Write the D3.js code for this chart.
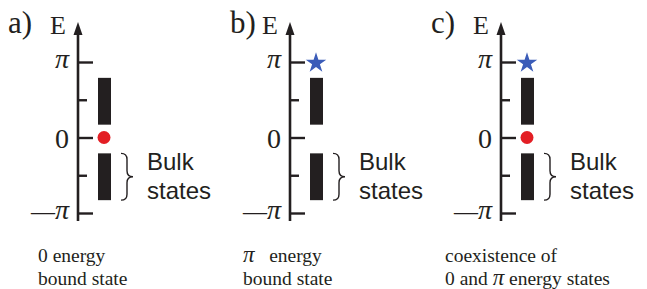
<!DOCTYPE html>
<html>
<head>
<meta charset="utf-8">
<script src="https://cdn.jsdelivr.net/npm/d3@7"></script>
<style>
  body { margin: 0; background: #fff; }
  svg { display: block; }
</style>
</head>
<body>
<script>
// Panels and their content
var panelLabels = ["a)", "b)", "c)"];
var hasZeroState = [true, false, true];
var hasPiState = [false, true, true];
// bulk bands, in units of pi (upper, lower)
var bulkBands = [[0.17, 0.79], [-0.83, -0.21]];
var majorTicks = [Math.PI, 0, -Math.PI];
var majorLabels = [["\u03c0"], ["0"], ["\u2014", "\u03c0"]];
var minorTicks = [Math.PI / 2, -Math.PI / 2];
var captions = [
  [["0 energy"], ["bound state"]],
  [["\u03c0", "   energy"], ["bound state"]],
  [["coexistence of"], ["0 and ", "\u03c0", " energy states"]]
];

var svgWidth = 647;
var svgHeight = 289;
var axisX = [78, 290, 501];
var ink = "#231f20";

var svg = d3.select("body")
  .append("svg")
  .attr("width", svgWidth)
  .attr("height", svgHeight);

var y = d3.scaleLinear()
  .domain([-Math.PI, Math.PI])
  .range([213, 62]);

var serif = "Liberation Serif";
var sans = "Liberation Sans";

panelLabels.forEach(function(lab, i) {
  var g = svg.append("g").attr("transform", `translate(${axisX[i]},0)`);

  // axis line with arrow head
  g.append("line")
    .attr("x1", 0).attr("x2", 0)
    .attr("y1", 221).attr("y2", 32)
    .attr("stroke", ink)
    .attr("stroke-width", 2.6);
  g.append("path")
    .attr("d", "M0,22 L4.5,35 L-4.5,35 Z")
    .attr("fill", ink);

  var major = d3.axisLeft(y)
    .tickValues(majorTicks)
    .tickSize(-15)
    .tickFormat("");
  var mg = g.append("g").call(major);
  mg.select(".domain").remove();
  mg.selectAll(".tick line").attr("stroke", ink).attr("stroke-width", 2.4);
  mg.selectAll(".tick text").remove();

  // tick labels
  majorTicks.forEach(function(v, k) {
    var t = g.append("text")
      .attr("x", -9).attr("y", y(v) + (k === 1 ? 10 : 6))
      .attr("text-anchor", "end")
      .style("font-family", serif)
      .style("font-size", "28px")
      .attr("fill", ink);
    majorLabels[k].forEach(function(part) {
      var s = t.append("tspan").text(part);
      if (part === "\u03c0") s.style("font-style", "italic");
      if (part === "\u2014") s.style("font-size", "24px");
    });
  });

  var minor = d3.axisLeft(y)
    .tickValues(minorTicks)
    .tickSize(-9)
    .tickFormat("");
  var ng = g.append("g").call(minor);
  ng.select(".domain").remove();
  ng.selectAll(".tick line").attr("stroke", ink).attr("stroke-width", 2.4);

  // panel label and E
  g.append("text")
    .attr("x", i === 1 ? -60 : -70).attr("y", 33)
    .style("font-family", serif).style("font-size", "31px")
    .attr("fill", ink)
    .text(lab);
  g.append("text")
    .attr("x", -28).attr("y", 34)
    .style("font-family", serif).style("font-size", "26px")
    .attr("fill", ink)
    .text("E");

  // bulk bands
  g.selectAll("rect.band")
    .data(bulkBands)
    .enter().append("rect")
    .attr("class", "band")
    .attr("x", 20).attr("width", 13)
    .attr("y", d => y(d[1] * Math.PI))
    .attr("height", d => y(d[0] * Math.PI) - y(d[1] * Math.PI))
    .attr("fill", ink);

  // zero energy state
  if (hasZeroState[i]) {
    g.append("circle")
      .attr("cx", 26).attr("cy", y(0))
      .attr("r", 6.5)
      .attr("fill", "#e31e24");
  }
  // pi energy state
  if (hasPiState[i]) {
    g.append("path")
      .attr("d", d3.symbol().type(d3.symbolStar).size(130)())
      .attr("transform", `translate(26,${y(Math.PI) + 1})`)
      .attr("fill", "#3b5cb8");
  }

  // brace next to lower band
  var yt = y(bulkBands[1][1] * Math.PI), yb = y(bulkBands[1][0] * Math.PI);
  var ym = (yt + yb) / 2, x0 = 43, x1 = 55, xm = (x0 + x1) / 2, r = 6;
  g.append("path")
    .attr("d", `M${x0},${yt} Q${xm},${yt} ${xm},${yt + r} L${xm},${ym - r} Q${xm},${ym} ${x1},${ym}` +
               ` Q${xm},${ym} ${xm},${ym + r} L${xm},${yb - r} Q${xm},${yb} ${x0},${yb}`)
    .attr("fill", "none")
    .attr("stroke", ink)
    .attr("stroke-width", 1.4);

  g.append("text")
    .attr("x", 69).attr("y", 170)
    .style("font-family", sans).style("font-size", "24px")
    .attr("fill", ink)
    .text("Bulk");
  g.append("text")
    .attr("x", 69).attr("y", 199)
    .style("font-family", sans).style("font-size", "24px")
    .attr("fill", ink)
    .text("states");

  // caption
  var capX = [-40, -47, -56][i];
  captions[i].forEach(function(line, li) {
    var t = g.append("text")
      .attr("x", capX).attr("y", 262 + li * 23)
      .style("font-family", serif).style("font-size", "19.5px")
      .style("white-space", "pre")
      .attr("fill", ink);
    line.forEach(function(part) {
      var s = t.append("tspan").text(part);
      if (part === "\u03c0") s.style("font-size", "23px").style("font-style", "italic");
    });
  });
});
</script>
</body>
</html>
